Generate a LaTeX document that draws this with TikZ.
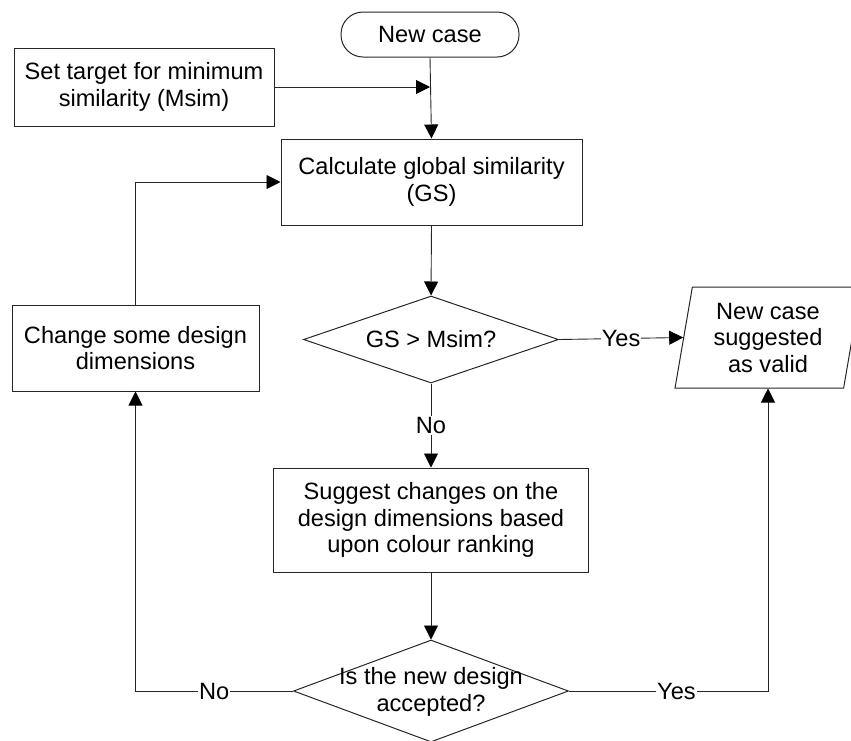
\documentclass[tikz,border=0pt]{standalone}
\usepackage{fontspec}
\setmainfont{Liberation Sans}
\usetikzlibrary{shapes.geometric,arrows.meta}
\begin{document}
\begin{tikzpicture}[x=1pt,y=-1pt,
  every node/.style={font=\fontsize{23.6}{26.5}\selectfont, text=black},
  procbox/.style={draw=black!85, line width=1pt, align=center, inner sep=0pt},
  termbox/.style={procbox, rounded corners=22pt},
  decision/.style={diamond, draw=black!85, line width=1pt, inner sep=0pt},
  iobox/.style={trapezium, trapezium left angle=80, trapezium right angle=100,
    trapezium stretches=true, draw=black!85, line width=1pt, inner sep=2pt, align=center},
  flow/.style={draw=black!85, line width=0.9pt,
    -{Triangle[length=14pt,width=14pt,color=black,fill=black]}},
  tag/.style={fill=white, inner sep=1pt}
]
\useasboundingbox (0,0) rectangle (851,740);

% process steps
\node[termbox, minimum width=178pt, minimum height=45pt] (newcase) at (430,34.5) {New case};
\node[procbox, minimum width=260pt, minimum height=78pt] (target) at (144,87)
  {Set target for minimum\\similarity (Msim)};
\node[procbox, minimum width=301pt, minimum height=86pt] (calc) at (431.5,182)
  {Calculate global similarity\\(GS)};
\node[decision, minimum width=255pt, minimum height=87pt] (gs) at (431,339.5) {};
\node at (gs) {GS > Msim?};
\node[iobox, minimum width=186pt, minimum height=101pt] (valid) at (768,337.5)
  {New case\\suggested\\as valid};
\node[procbox, minimum width=247pt, minimum height=86pt] (change) at (135.5,348)
  {Change some design\\dimensions};
\node[procbox, minimum width=315pt, minimum height=104pt] (suggest) at (431,520)
  {Suggest changes on the\\design dimensions based\\upon colour ranking};
\node[decision, minimum width=275pt, minimum height=102pt] (accept) at (431,691) {};
\node[align=center] at (431,692) {Is the new design\\accepted?};

% connectors
\draw[flow] (newcase.south) -- (calc.north);
\draw[flow] (target.east) -- (target.east -| newcase.south);
\draw[flow] (calc.south) -- (gs.north);
\draw[flow] (gs.east) -- node[tag] {Yes} (valid.west);
\draw[flow] (gs.south) -- node[tag] {No} (suggest.north);
\draw[flow] (suggest.south) -- (accept.north);
\draw[flow] (accept.west) -| node[tag, pos=0.25] {No} (change.south);
\draw[flow] (accept.east) -| node[tag, pos=0.27] {Yes} (valid.south);
\draw[flow] (change.north) |- (calc.west);
\end{tikzpicture}
\end{document}
